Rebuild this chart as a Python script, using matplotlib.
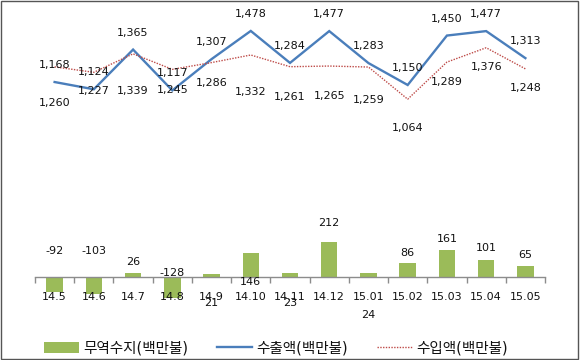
import matplotlib
matplotlib.use("Agg")
import matplotlib.pyplot as plt
from matplotlib.patches import Rectangle, Patch
from matplotlib.lines import Line2D
import numpy as np

plt.rcParams['font.family'] = ['DejaVu Sans', 'Noto Sans CJK KR']

months = ['14.5', '14.6', '14.7', '14.8', '14.9', '14.10', '14.11', '14.12',
          '15.01', '15.02', '15.03', '15.04', '15.05']
export_vals = [1168, 1124, 1365, 1117, 1307, 1478, 1284, 1477, 1283, 1150, 1450, 1477, 1313]
import_vals = [1260, 1227, 1339, 1245, 1286, 1332, 1261, 1265, 1259, 1064, 1289, 1376, 1248]
balance_vals = [-92, -103, 26, -128, 21, 146, 23, 212, 24, 86, 161, 101, 65]

label_bal = '무역수지(백만불)'
label_exp = '수출액(백만불)'
label_imp = '수입액(백만불)'

# label offsets (pixels, positive = up)
exp_label_off = [17] * 13
imp_label_off = [-36, -19, -37, -21, -20, -37, -30, -30, -33, -29, -20, -19, -19]
bal_label_off = [41, 43, 11, 25, -29, -29, -30, 19, -42, 10, 11, 12, 11]

W, H = 580, 360
fig = plt.figure(figsize=(W / 100, H / 100), dpi=100)

blue = '#4A7EBB'
red = '#BE4B48'
green = '#9BBB59'
px2pt = 0.72

x = np.arange(len(months))
x0, x1 = 35, 545

# upper line chart: pixel y 10..190
ax1 = fig.add_axes([x0 / W, 1 - 190 / H, (x1 - x0) / W, 180 / H])
ax1.plot(x, export_vals, color=blue, lw=1.7, solid_joinstyle='miter')
ax1.plot(x, import_vals, color=red, lw=1.0, ls=(0, (1, 1)))
ax1.set_xlim(-0.5, len(months) - 0.5)
ax1.set_ylim(513, 1605)
ax1.axis('off')
for i in range(len(months)):
    ax1.annotate(f'{export_vals[i]:,}', (x[i], export_vals[i]),
                 xytext=(0, exp_label_off[i] * px2pt), textcoords='offset points',
                 ha='center', va='center', fontsize=8, color='#111111')
    ax1.annotate(f'{import_vals[i]:,}', (x[i], import_vals[i]),
                 xytext=(0, imp_label_off[i] * px2pt), textcoords='offset points',
                 ha='center', va='center', fontsize=8, color='#111111')

# lower bar chart: pixel y 200..310, zero at 277
ax2 = fig.add_axes([x0 / W, 1 - 310 / H, (x1 - x0) / W, 110 / H])
ax2.bar(x, balance_vals, width=0.42, color=green, edgecolor='none')
ax2.set_xlim(-0.5, len(months) - 0.5)
ax2.set_ylim(-(310 - 277) * 6.06, (277 - 200) * 6.06)
for s in ['top', 'right', 'left']:
    ax2.spines[s].set_visible(False)
ax2.spines['bottom'].set_position(('data', 0))
ax2.spines['bottom'].set_color('#8C8C8C')
ax2.spines['bottom'].set_linewidth(1.0)
ax2.set_yticks([])
ax2.set_xticks(x)
ax2.set_xticklabels(months, fontsize=8, color='#111111')
ax2.tick_params(axis='x', which='major', length=0, pad=11)
ax2.set_xticks(np.arange(-0.5, len(months), 1.0), minor=True)
ax2.tick_params(axis='x', which='minor', length=4, color='#8C8C8C', width=1, direction='out')
ax2.patch.set_visible(False)
for i in range(len(months)):
    v = balance_vals[i]
    ax2.annotate(f'{v}', (x[i], v), xytext=(0, bal_label_off[i] * px2pt),
                 textcoords='offset points', ha='center', va='center',
                 fontsize=8, color='#111111')

handles = [Patch(facecolor=green, edgecolor='none'),
           Line2D([0], [0], color=blue, lw=1.7),
           Line2D([0], [0], color=red, lw=1.0, ls=(0, (1, 1)))]
fig.legend(handles, [label_bal, label_exp, label_imp], loc='center',
           bbox_to_anchor=(276 / W, 1 - 348 / H), ncol=3, frameon=False,
           fontsize=10.5, handlelength=2.4, handletextpad=0.3, columnspacing=2.0,
           labelcolor='#111111')

fig.patches.append(Rectangle((0.002, 0.003), 0.994, 0.994, transform=fig.transFigure,
                             fill=False, edgecolor='#555555', lw=1.0))

fig.savefig('out.png', dpi=100)
